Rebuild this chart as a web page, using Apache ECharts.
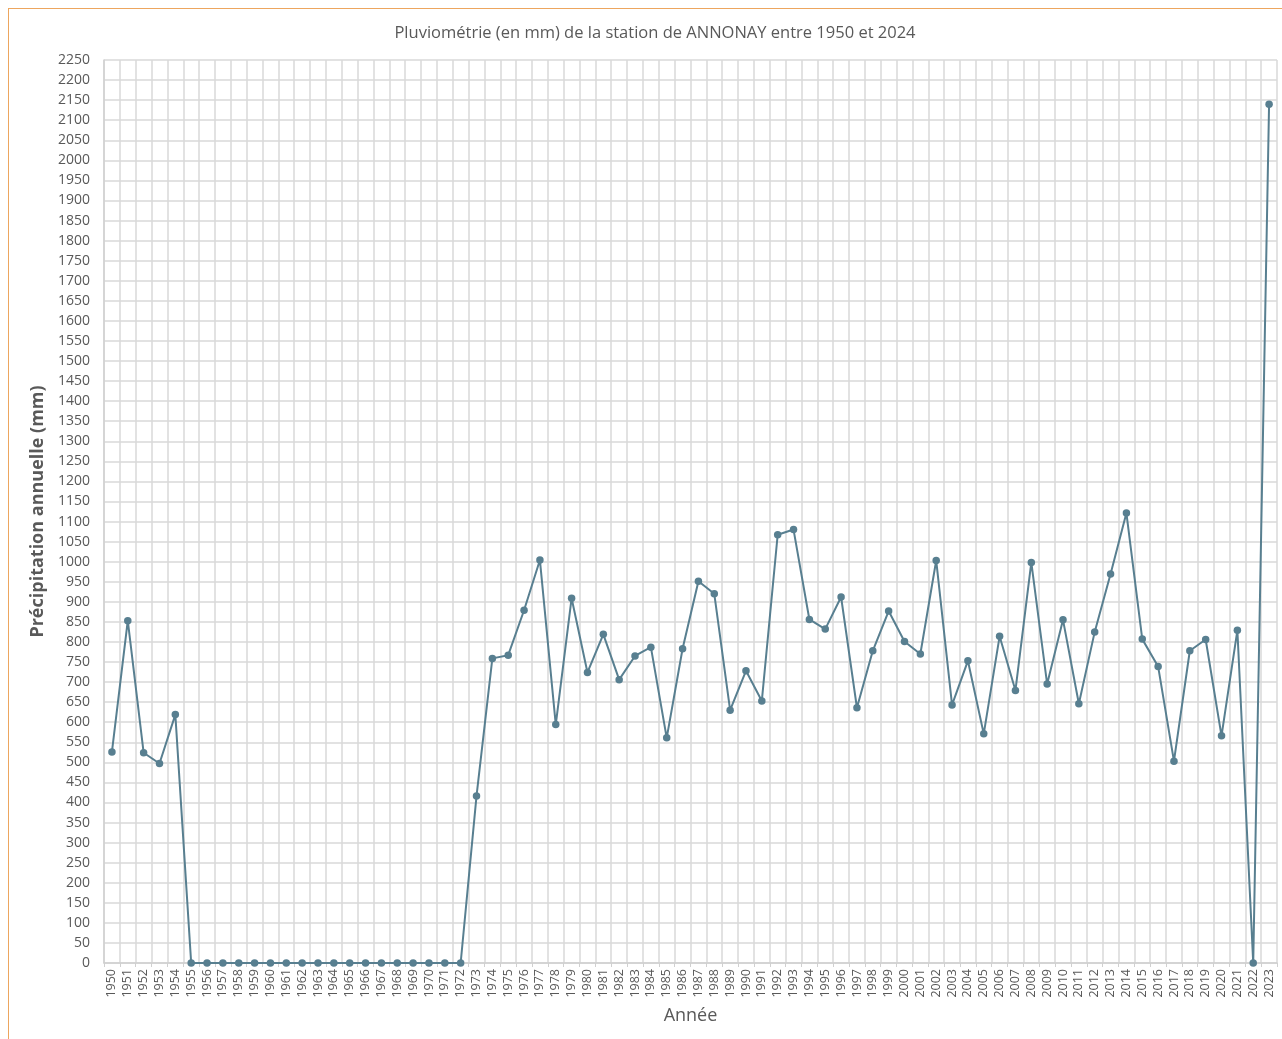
<!DOCTYPE html>
<html>
<head>
<meta charset="utf-8">
<script src="https://cdn.jsdelivr.net/npm/echarts@6/dist/echarts.min.js"></script>
<style>
  html, body { margin: 0; padding: 0; background: #fff; }
  #frame { position: absolute; left: 8px; top: 8px; width: 1274px; height: 1031px;
           border-top: 1.5px solid #eda65e; border-left: 1.5px solid #eda65e; box-sizing: border-box; }
  #chart { position: absolute; left: 0; top: 0; width: 1282px; height: 1039px; }
</style>
</head>
<body>
<div id="frame"></div>
<div id="chart"></div>
<script>
// années 1950 -> 2023
const years = []
for (let y = 1950; y <= 2023; y++) years.push(String(y))

// pluviométrie annuelle (mm)
const rain1950s = [526, 853, 524, 497, 619, 0, 0, 0, 0, 0]
const rain1960s = [0, 0, 0, 0, 0, 0, 0, 0, 0, 0]
const rain1970s = [0, 0, 0, 416, 759, 767, 879, 1004, 594, 909]
const rain1980s = [724, 819, 706, 765, 787, 561, 783, 951, 920, 630]
const rain1990s = [728, 653, 1067, 1080, 856, 832, 912, 636, 778, 877]
const rain2000s = [801, 770, 1003, 643, 753, 571, 814, 679, 998, 695]
const rain2010s = [855, 646, 825, 969, 1121, 807, 739, 503, 778, 806]
const rain2020s = [566, 829, 0, 2140]

const rain = [].concat(rain1950s, rain1960s, rain1970s, rain1980s, rain1990s, rain2000s, rain2010s, rain2020s)

const myChart = echarts.init(document.getElementById('chart'))

const option = {
    animation: false,
    title: {
        text: 'Pluviométrie (en mm) de la station de ANNONAY entre 1950 et 2024',
        left: 650,
        top: 20,
        textAlign: 'center',
        textStyle: { fontFamily: 'Open Sans', fontSize: 16.5, fontWeight: 'normal', color: '#595959' }
    },
    grid: { left: 104, top: 60, right: 5, bottom: 76, containLabel: false },
    xAxis: {
        type: 'category',
        data: years,
        boundaryGap: true,
        name: 'Année',
        nameLocation: 'middle',
        nameGap: 44,
        nameTextStyle: { fontFamily: 'Open Sans', fontSize: 18, color: '#595959' },
        axisLine: { lineStyle: { color: '#d0d0d0', width: 1.5 } },
        axisTick: { show: true, interval: 0, length: 4, lineStyle: { color: '#d0d0d0' } },
        axisLabel: { interval: 0, rotate: 90, fontFamily: 'Open Sans', fontSize: 12.5, color: '#595959', margin: 6 },
        splitLine: { show: true, interval: 0, lineStyle: { color: '#d9d9d9', width: 1.5 } }
    },
    yAxis: {
        type: 'value',
        min: 0,
        max: 2250,
        interval: 50,
        name: 'Précipitation annuelle (mm)',
        nameLocation: 'middle',
        nameGap: 56,
        nameTextStyle: { fontFamily: 'Open Sans', fontSize: 18, fontWeight: 'bold', color: '#595959' },
        axisLine: { show: true, lineStyle: { color: '#d0d0d0', width: 1.5 } },
        axisTick: { show: false },
        axisLabel: {
            fontFamily: 'Open Sans', fontSize: 14, color: '#595959', margin: 14,
            formatter: (v) => String(v)
        },
        splitLine: { show: true, lineStyle: { color: '#d9d9d9', width: 1.5 } }
    },
    series: [
        {
            type: 'line',
            data: rain,
            symbol: 'circle',
            symbolSize: 7.5,
            lineStyle: { color: '#587f90', width: 2 },
            itemStyle: { color: '#587f90' }
        }
    ]
}

myChart.setOption(option)
</script>
</body>
</html>
